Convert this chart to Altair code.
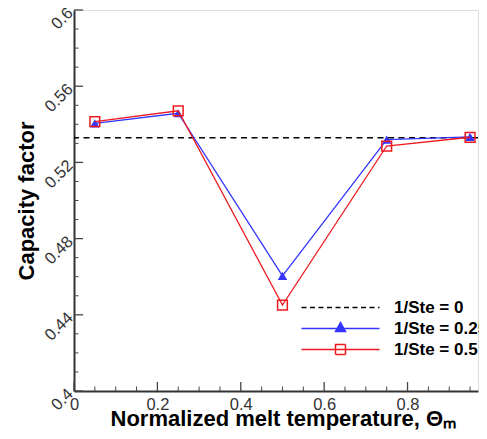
import altair as alt
import pandas as pd

# ---- data ----
theta = [0.05, 0.25, 0.5, 0.75, 0.95]
cf_ste025 = [0.5405, 0.5458, 0.4604, 0.5320, 0.5334]
cf_ste05 = [0.5414, 0.5471, 0.4451, 0.5286, 0.5332]
cf_ste0 = [0.533]
series_names = ["1/Ste = 0", "1/Ste = 0.25", "1/Ste = 0.5"]

x_major = [0, 0.2, 0.4, 0.6, 0.8]
x_minor = [0.05, 0.1, 0.15, 0.25, 0.3, 0.35, 0.45, 0.5, 0.55,
           0.65, 0.7, 0.75, 0.85, 0.9, 0.95]
y_major = [0.4, 0.44, 0.48, 0.52, 0.56, 0.6]
y_minor = [0.41, 0.42, 0.43, 0.45, 0.46, 0.47, 0.49, 0.5, 0.51,
           0.53, 0.54, 0.55, 0.57, 0.58, 0.59]

BLUE = "#3535ff"
RED = "#ee1a1f"
FONT = "Liberation Sans"
W, H = 404, 381

df_b = pd.DataFrame({"x": theta, "y": cf_ste025})
df_r = pd.DataFrame({"x": theta, "y": cf_ste05})
df_0 = pd.DataFrame({"y": cf_ste0})
df_leg = pd.DataFrame({"series": series_names})
df_xM = pd.DataFrame({"v": x_major})
df_xm = pd.DataFrame({"v": x_minor})
df_yM = pd.DataFrame({"v": y_major})
df_ym = pd.DataFrame({"v": y_minor})

xscale = alt.Scale(domain=[0, 0.969], nice=False, zero=False)
yscale = alt.Scale(domain=[0.4, 0.6], nice=False, zero=False)

xaxis = alt.Axis(values=x_major, format="~g", title="Normalized melt temperature, Θₘ",
                 ticks=False, grid=False, labelFont=FONT, labelFontSize=16.5,
                 labelColor="#333333", labelPadding=5, labelFlush=False,
                 labelOverlap=False, domainColor="#333333", domainWidth=2,
                 titleFont=FONT, titleFontSize=22, titleFontWeight="bold",
                 titleColor="black", titleX=36, titleY=34, titleAlign="left",
                 titleBaseline="alphabetic")
yaxis = alt.Axis(values=y_major, format="~g", title="Capacity factor",
                 ticks=False, grid=False, labelFont=FONT, labelFontSize=16.5,
                 labelColor="#333333", labelPadding=4, labelAngle=315,
                 labelAlign="right", labelBaseline="middle", labelOverlap=False,
                 domainColor="#333333", domainWidth=2,
                 titleFont=FONT, titleFontSize=22, titleFontWeight="bold",
                 titleColor="black", titleX=-36, titleY=H / 2,
                 titleAlign="center", titleBaseline="bottom")


def X(f):
    return alt.X(f, type="quantitative", scale=xscale, axis=xaxis)


def Y(f):
    return alt.Y(f, type="quantitative", scale=yscale, axis=yaxis)


ref_line = alt.Chart(df_0).mark_rule(color="black", strokeWidth=1.5,
                                     strokeDash=[6, 4.5]).encode(y=Y("y"))

blue_line = alt.Chart(df_b).mark_line(color=BLUE, strokeWidth=1.3).encode(x=X("x"), y=Y("y"))
blue_pts = alt.Chart(df_b).mark_point(shape="triangle-up", filled=True, color=BLUE,
                                      size=90, opacity=1).encode(x=X("x"), y=Y("y"))
red_line = alt.Chart(df_r).mark_line(color=RED, strokeWidth=1.3).encode(x=X("x"), y=Y("y"))
red_pts = alt.Chart(df_r).mark_point(shape="square", filled=False, color=RED,
                                     size=95, strokeWidth=1.5, opacity=1).encode(x=X("x"), y=Y("y"))

# inward ticks
tick_color = "#444444"
xM = alt.Chart(df_xM).mark_rule(color=tick_color, strokeWidth=1.3).encode(
    x=X("v"), y=alt.value(H), y2=alt.value(H - 9))
xm = alt.Chart(df_xm).mark_rule(color=tick_color, strokeWidth=1).encode(
    x=X("v"), y=alt.value(H), y2=alt.value(H - 4.5))
yM = alt.Chart(df_yM).mark_rule(color=tick_color, strokeWidth=1.3).encode(
    y=Y("v"), x=alt.value(0), x2=alt.value(9))
ym = alt.Chart(df_ym).mark_rule(color=tick_color, strokeWidth=1).encode(
    y=Y("v"), x=alt.value(0), x2=alt.value(4.5))

# legend (symbols: line + marker), drawn by Vega's legend
paths = ["M-7.8,0H7.8",
         "M-7.8,0H7.8M0,-1.2L1,0.6L-1,0.6Z",
         "M-7.8,0H7.8M-1,-1H1V1H-1Z"]
leg = alt.Legend(orient="none", legendX=258, legendY=289, title=None,
                 labelFont=FONT, labelFontSize=17, labelFontWeight="bold",
                 labelColor="black", symbolSize=100, symbolStrokeWidth=1.5,
                 labelOffset=45, rowPadding=3, padding=0, labelLimit=300)
legend_layer = alt.Chart(df_leg).mark_point(filled=True, clip=True, size=100,
                                            strokeWidth=1.5, opacity=1).encode(
    x=alt.value(-300), y=alt.value(-300),
    shape=alt.Shape("series:N", scale=alt.Scale(domain=series_names, range=paths), legend=leg),
    fill=alt.Fill("series:N", scale=alt.Scale(domain=series_names,
                                              range=["transparent", BLUE, "transparent"]), legend=leg),
    stroke=alt.Stroke("series:N", scale=alt.Scale(domain=series_names,
                                                  range=["black", BLUE, RED]), legend=leg),
    strokeDash=alt.StrokeDash("series:N", scale=alt.Scale(domain=series_names,
                                                          range=[[5, 3.5], [1, 0], [1, 0]]), legend=leg),
)

chart = alt.layer(
    xm, xM, ym, yM, ref_line, blue_line, blue_pts, red_line, red_pts, legend_layer
).properties(
    width=W, height=H,
    autosize=alt.AutoSizeParams(type="none"),
    padding={"left": 66, "top": 2, "right": 1, "bottom": 39},
).configure_view(stroke=None).configure(background="white")

chart.save("out.html", embed_options={"renderer": "svg", "actions": False})
